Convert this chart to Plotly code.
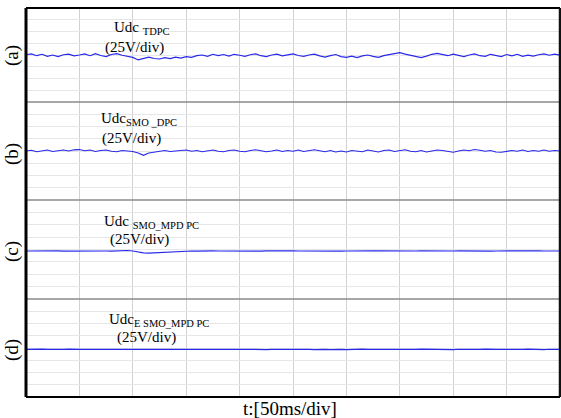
import plotly.graph_objects as go
from plotly.subplots import make_subplots

# time axis: 0..500 ms (10 div x 50 ms), sampled every 5 ms
t_ms = [i * 5 for i in range(101)]

panel_tags = ["(a)", "(b)", "(c)", "(d)"]
signal_names = ["Udc <sub>TDPC</sub>", "Udc<sub>SMO _DPC</sub>",
                "Udc <sub>SMO_MPD PC</sub>", "Udc<sub>E SMO_MPD PC</sub>"]
scale_label = "(25V/div)"
base_levels = [599, 600, 597, 597]  # V

dev_a = [1.5, 3.5, -0.5, 2.5, -2.0, 1.0, -2.5, 1.5, 3.0, -1.0,
         1.0, 3.5, -0.5, 4.0, 0.0, -2.5, 2.0, 4.0, 0.5, -2.0,
         -4.0, -9.5, -6.0, -3.5, -6.5, -7.5, -4.5, -6.5, -3.5, -5.5,
         -2.5, -4.0, -0.5, 1.0, -2.0, 2.5, -0.5, 2.0, -1.5, 2.5,
         0.5, -2.0, 1.5, 3.5, -0.5, -2.5, 1.0, 3.0, -1.0, 1.0,
         3.5, 0.0, -2.0, 1.0, 3.0, -1.0, -3.5, -0.5, 2.0, -2.5,
         -4.0, -1.5, -4.5, -1.0, 1.0, -2.0, -4.0, -0.5, 2.0, 4.5,
         6.0, 3.0, 0.5, -2.5, -4.5, -1.5, 2.5, 4.5, 1.5, -0.5,
         3.0, -0.5, -2.5, 1.0, 3.5, -0.5, -2.0, 2.5, 0.0, -2.5,
         2.0, -1.0, 2.5, -2.0, 0.5, -1.5, 1.5, 3.5, 0.5, 3.0, 0.5]

dev_b = [0.0, 1.5, -1.5, 1.0, 2.0, -1.0, 0.5, 2.0, 0.0, 2.5,
         3.0, 0.5, 2.0, -1.0, 1.0, 2.0, -0.5, -1.5, 1.0, 0.0,
         -1.0, -4.0, -9.0, -4.0, -2.0, -0.5, 1.0, -1.0, 0.5, 1.0,
         2.0, -0.5, 1.0, -1.5, 1.0, 2.0, -0.5, -1.5, 1.0, 2.0,
         -0.5, -1.5, 1.0, 2.5, 0.5, -1.5, 0.0, 2.0, -1.0, 1.0,
         -0.5, 2.0, -1.0, 0.0, 2.5, 0.5, -1.5, 1.0, -2.0, 0.0,
         -2.0, 1.0, -0.5, -1.5, 2.0, 0.0, -2.0, 1.0, 2.0, -1.0,
         1.0, 2.5, -0.5, -1.5, 1.0, -2.0, 0.0, 2.0, 1.0, -1.0,
         -2.5, 0.0, 2.0, 0.5, 3.0, 1.5, -0.5, 1.0, -2.0, -2.5,
         -1.0, 1.0, -0.5, 2.0, -1.0, 1.0, -0.5, 2.0, -0.5, 1.0, 0.0]

dev_c = [0.0, 0.3, 0.0, -0.3, 0.2, 0.0, 0.3, -0.2, 0.0, 0.3,
         0.0, -0.3, 0.0, 0.2, 0.5, 0.0, -0.2, 0.3, 0.8, 1.0,
         0.0, -2.5, -4.0, -4.5, -4.0, -3.5, -2.5, -1.5, -0.5, 0.0,
         0.3, 0.0, -0.3, 0.2, 0.0, 0.4, 0.0, -0.2, 0.2, 0.0,
         -0.3, 0.0, 0.3, 0.0, -0.2, 0.2, 0.5, 0.0, -0.3, 0.0,
         0.2, 0.0, -0.2, 0.3, 0.0, -0.4, 0.0, 0.2, 0.0, -0.3,
         0.0, 0.3, 0.0, -0.2, 0.0, 0.4, 0.2, 0.0, -0.3, 0.0,
         0.2, 0.0, -0.3, 0.0, 0.3, 0.0, -0.2, 0.2, 0.0, -0.4,
         0.0, 0.3, 0.0, -0.2, 0.0, 0.3, 0.0, -0.3, 0.0, 0.2,
         0.0, -0.2, 0.3, 0.0, -0.3, 0.0, 0.2, 0.0, -0.2, 0.3, 0.0]

dev_d = [0.0, 0.5, -0.3, 0.8, 0.0, -0.5, 0.3, 0.0, 0.6, -0.3,
         0.0, 0.4, -0.5, 0.0, 0.3, -0.2, 0.0, 0.5, 0.0, -0.4,
         0.0, 0.3, -0.3, 0.0, 0.5, 0.0, -0.5, 0.2, 0.0, 0.4,
         -0.2, 0.0, 0.3, -0.4, 0.0, 0.5, 0.0, -0.3, 0.2, 0.0,
         0.4, 0.0, -0.3, 0.6, 0.0, -0.2, 0.3, 0.0, -0.5, 0.2,
         0.0, 0.5, 0.8, 0.0, -0.3, 0.4, 0.0, -0.2, 0.5, 0.0,
         -0.4, 0.3, 0.0, 0.6, 0.0, -0.3, 0.2, 0.0, 0.5, -0.2,
         0.0, 0.3, -0.4, 0.0, 0.6, 0.2, 0.0, -0.3, 0.4, 0.0,
         -0.2, 0.5, 0.0, -0.4, 0.3, 0.0, 0.6, -0.2, 0.0, 0.4,
         0.0, -0.3, 0.5, 0.0, 0.8, 0.3, 0.0, -0.4, 0.5, 0.0, 0.3]

devs = [dev_a, dev_b, dev_c, dev_d]

# figure geometry in pixels
W, H = 561, 418
L, R, T, B = 26, 1, 8, 21
PW, PH = W - L - R, H - T - B
panel_px = [(8, 102), (102, 200), (200, 299), (299, 397)]

fig = make_subplots(rows=4, cols=1, shared_xaxes=True, vertical_spacing=0,
                    row_heights=[b - a for a, b in panel_px])

serif = "Liberation Serif, Times New Roman, serif"

for i in range(4):
    y = [base_levels[i] + v for v in devs[i]]
    fig.add_trace(go.Scatter(x=t_ms, y=y, mode="lines",
                             line=dict(color="rgb(40,40,235)", width=1.2),
                             showlegend=False, hoverinfo="skip"),
                  row=i + 1, col=1)
    fig.update_yaxes(range=[500, 700], dtick=25, tick0=500, showticklabels=False,
                     showgrid=True, gridcolor="#e6e6e6", gridwidth=1,
                     zeroline=False, showline=False, ticks="",
                     row=i + 1, col=1)
    fig.update_xaxes(range=[0, 500], dtick=50, tick0=0, showticklabels=False,
                     showgrid=True, gridcolor="#d2d2d2", gridwidth=1,
                     zeroline=False, showline=False, ticks="",
                     row=i + 1, col=1)


def px_x(px):
    return (px - L) / PW


def px_y(py):
    return (H - B - py) / PH


shapes = []
# panel separators
for yb in (102, 200, 299):
    shapes.append(dict(type="line", xref="paper", yref="paper",
                       x0=0, x1=1, y0=px_y(yb), y1=px_y(yb),
                       line=dict(color="#8a8a8a", width=1.5)))
# outer frame
shapes.append(dict(type="line", xref="paper", yref="paper", x0=0, x1=1, y0=1, y1=1,
                   line=dict(color="black", width=2)))
shapes.append(dict(type="line", xref="paper", yref="paper", x0=0, x1=1, y0=0, y1=0,
                   line=dict(color="black", width=2)))
shapes.append(dict(type="line", xref="paper", yref="paper", x0=0, x1=0, y0=0, y1=1,
                   line=dict(color="black", width=3)))
shapes.append(dict(type="line", xref="paper", yref="paper", x0=1, x1=1, y0=0, y1=1,
                   line=dict(color="#111111", width=2.5)))

annotations = []
name_pos = [(112, 28), (99, 119), (102, 222), (107, 320)]
scale_pos = [(103, 47), (100, 138), (108, 239), (115, 337)]
tag_y = [56, 154, 252, 350]
for i in range(4):
    annotations.append(dict(text=signal_names[i], xref="paper", yref="paper",
                            x=px_x(name_pos[i][0]), y=px_y(name_pos[i][1]),
                            xanchor="left", yanchor="middle", showarrow=False,
                            font=dict(family=serif, size=15, color="black")))
    annotations.append(dict(text=scale_label, xref="paper", yref="paper",
                            x=px_x(scale_pos[i][0]), y=px_y(scale_pos[i][1]),
                            xanchor="left", yanchor="middle", showarrow=False,
                            font=dict(family=serif, size=15, color="black")))
    annotations.append(dict(text=panel_tags[i], xref="paper", yref="paper",
                            x=px_x(12), y=px_y(tag_y[i]), textangle=-90,
                            xanchor="center", yanchor="middle", showarrow=False,
                            font=dict(family=serif, size=19, color="black")))
annotations.append(dict(text="t:[50ms/div]", xref="paper", yref="paper",
                        x=px_x(290), y=px_y(408), xanchor="center", yanchor="middle",
                        showarrow=False,
                        font=dict(family=serif, size=19, color="black")))

fig.update_layout(width=W, height=H, margin=dict(l=L, r=R, t=T, b=B),
                  paper_bgcolor="white", plot_bgcolor="white",
                  shapes=shapes, annotations=annotations, showlegend=False)

fig.write_html("out.html")
